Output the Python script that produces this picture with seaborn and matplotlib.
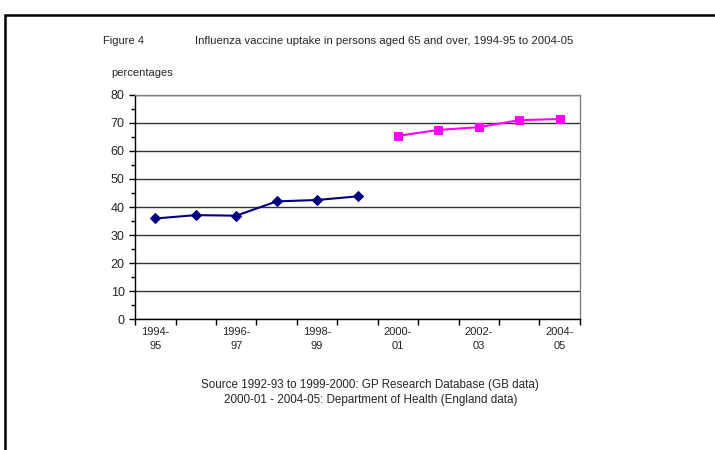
import matplotlib
matplotlib.use("Agg")
import matplotlib.pyplot as plt
from matplotlib.patches import Rectangle
from matplotlib.ticker import MultipleLocator, FixedLocator
import seaborn as sns
import numpy as np
import pandas as pd

periods = ["1994-95", "1995-96", "1996-97", "1997-98", "1998-99", "1999-00",
           "2000-01", "2001-02", "2002-03", "2003-04", "2004-05"]
gprd_values = [35.9, 37.1, 36.9, 42.0, 42.5, 43.8]
doh_values = [65.4, 67.5, 68.5, 71.0, 71.4]
tick_labels = ["1994-\n95", "1996-\n97", "1998-\n99", "2000-\n01", "2002-\n03", "2004-\n05"]

gprd = pd.DataFrame({"pos": np.arange(len(gprd_values)), "value": gprd_values})
doh = pd.DataFrame({"pos": np.arange(len(gprd_values), len(periods)), "value": doh_values})

sns.set_style("white")
plt.rcParams["font.family"] = ["Liberation Sans", "DejaVu Sans"]

fig = plt.figure(figsize=(7.15, 4.5), dpi=100)
ax = fig.add_axes([0.189, 0.291, 0.622, 0.498])

# outer frame
fig.patches.append(Rectangle((0.007, -0.05), 1.1, 1.017, transform=fig.transFigure,
                             fill=False, edgecolor="black", linewidth=1.8))

sns.lineplot(data=gprd, x="pos", y="value", ax=ax, color="#000080", marker="D",
             markersize=5, markeredgecolor="#000080", linewidth=1.5)
sns.lineplot(data=doh, x="pos", y="value", ax=ax, color="#ff00ff", marker="s",
             markersize=6, markeredgecolor="#ff00ff", linewidth=1.5)

ax.set_xlim(-0.5, len(periods) - 0.5)
ax.set_ylim(0, 80)
ax.yaxis.set_major_locator(MultipleLocator(10))
ax.yaxis.set_minor_locator(MultipleLocator(5))
ax.set_yticks(np.arange(0, 81, 10))
ax.set_xticks(np.arange(0, len(periods), 2))
ax.set_xticklabels(tick_labels)
ax.xaxis.set_minor_locator(FixedLocator(np.arange(-0.5, len(periods), 1)))
ax.tick_params(axis="x", which="major", length=0, labelsize=8, pad=6)
ax.tick_params(axis="x", which="minor", length=4, width=1, color="black", direction="out", bottom=True)
ax.tick_params(axis="y", which="major", length=4, width=1, color="black", direction="out", left=True, labelsize=9)
ax.tick_params(axis="y", which="minor", length=3, width=1, color="black", direction="out", left=True)
for lab in ax.get_xticklabels():
    lab.set_linespacing(1.4)

ax.grid(axis="y", which="major", color="#333333", linewidth=1)
ax.set_axisbelow(True)
ax.set_xlabel("")
ax.set_ylabel("")
for side in ["top", "right"]:
    ax.spines[side].set_color("#808080")
    ax.spines[side].set_linewidth(1)
for side in ["left", "bottom"]:
    ax.spines[side].set_color("black")
    ax.spines[side].set_linewidth(1)

fig.text(0.144, 0.91, "Figure 4", fontsize=8, va="center")
fig.text(0.273, 0.91, "Influenza vaccine uptake in persons aged 65 and over, 1994-95 to 2004-05",
         fontsize=8.2, va="center")
fig.text(0.155, 0.838, "percentages", fontsize=8, va="center")
fig.text(0.518, 0.128, "Source 1992-93 to 1999-2000: GP Research Database (GB data)\n"
         "2000-01 - 2004-05: Department of Health (England data)",
         fontsize=8.4, ha="center", va="center", linespacing=1.25)

fig.savefig("out.png", dpi=100)
